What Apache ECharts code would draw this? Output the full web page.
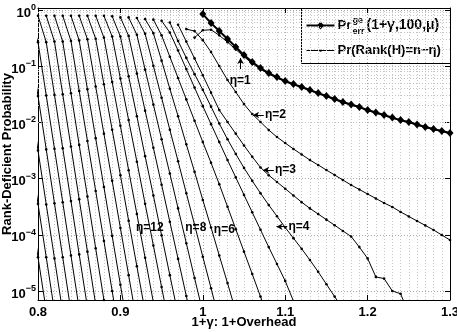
<!DOCTYPE html>
<html><head><meta charset="utf-8">
<script src="https://cdn.jsdelivr.net/npm/echarts@6/dist/echarts.min.js"></script>
<style>html,body{margin:0;padding:0;background:#fff}#c{width:457px;height:332px}</style>
</head><body><div id="c"></div>
<script>
const FONT = 'Liberation Sans, Arial, sans-serif';
const STEP = 0.01;
const xTicks = [0.8, 0.9, 1.0, 1.1, 1.2, 1.3];
const yMin = 6.9e-6, yMax = 1.09;

// Pr_err^ge(1+gamma,100,mu), x = 1.00 ... 1.30
const prErrStart = 1.00;
const prErr = [0.849,0.587,0.423,0.305,0.220,0.158,0.119,0.0929,0.0757,0.0643,0.0546,0.0482,0.0427,0.0378,0.0333,0.0295,0.0261,0.0231,0.0208,0.0188,0.0166,0.0150,0.0136,0.0122,0.0110,0.0102,0.00918,0.00828,0.00764,0.00703,0.00647];

// Pr(Rank(H)=n-eta): first x of each curve (index = eta)
const etaStart = [null,0.99,0.98,0.97,0.96,0.95,0.94,0.93,0.92,0.91,0.90,0.89,0.88,0.87,0.86,0.85,0.84,0.83,0.82,0.81,0.80,0.79,0.78,0.77,0.76,0.75];
const eta1 = [0.324,0.437,0.447,0.355,0.269,0.200,0.148,0.112,0.0891,0.0724,0.0617,0.0531,0.0471,0.0417,0.0369,0.0326,0.0288,0.0255,0.0225,0.0204,0.0184,0.0163,0.0147,0.0132,0.0119,0.0108,0.00993,0.00897,0.00809,0.00746,0.00687,0.00632];
const eta2 = [0.459,0.423,0.292,0.179,0.101,0.0568,0.0348,0.0212,0.0141,0.0102,0.00733,0.00550,0.00430,0.00337,0.00269,0.00214,0.00175,0.00142,0.00116,9.44e-4,7.69e-4,6.40e-4,5.32e-4,4.43e-4,3.68e-4,3.13e-4,2.55e-4,2.12e-4,1.76e-4,1.47e-4,1.22e-4,9.91e-5,8.07e-5];
const eta3 = [0.550,0.275,0.138,0.0692,0.0339,0.0166,0.0102,0.00631,0.00389,0.00245,0.00158,0.00115,8.71e-4,6.61e-4,5.01e-4,3.80e-4,2.95e-4,2.34e-4,1.86e-4,1.48e-4,1.17e-4,9.33e-5,6.03e-5,3.80e-5,1.78e-5,1.66e-5,1.00e-5,8.91e-6,3.98e-6];
const eta4 = [0.603,0.282,0.141,0.0724,0.0380,0.0191,0.00955,0.00501,0.00275,0.00155,9.12e-4,5.50e-4,3.39e-4,2.14e-4,1.35e-4,8.71e-5,5.62e-5,3.55e-5,2.19e-5,1.32e-5,7.94e-6,4.79e-6];
const eta5 = [0.646,0.398,0.191,0.0891,0.0417,0.0195,0.00933,0.00447,0.00214,0.00105,5.13e-4,2.51e-4,1.23e-4,6.03e-5,3.02e-5,1.51e-5,6.61e-6,3.16e-6];
const eta6 = [0.676,0.355,0.148,0.0617,0.0257,0.0107,0.00447,0.00191,7.94e-4,3.16e-4,1.26e-4,5.01e-5,2.00e-5,7.94e-6,3.16e-6];
const eta7 = [0.692,0.389,0.126,0.0398,0.0129,0.00407,0.00132,4.17e-4,1.35e-4,4.27e-5,1.38e-5,4.37e-6];
const eta8 = [0.724,0.380,0.102,0.0275,0.00741,0.00204,5.50e-4,1.51e-4,4.07e-5,1.12e-5,3.02e-6];
const eta9 = [0.741,0.363,0.0871,0.0209,0.00501,0.00123,2.95e-4,7.08e-5,1.70e-5,4.17e-6];
const eta10 = [0.741,0.347,0.0741,0.0162,0.00355,7.76e-4,1.70e-4,3.72e-5,8.13e-6,1.78e-6];
const eta11 = [0.776,0.339,0.0661,0.0129,0.00251,5.01e-4,9.77e-5,1.91e-5,3.80e-6];
const eta12 = [0.794,0.339,0.0603,0.0110,0.00200,3.55e-4,6.46e-5,1.17e-5,2.09e-6];
const eta13 = [0.794,0.324,0.0525,0.00871,0.00141,2.34e-4,3.89e-5,6.31e-6,1.05e-6];
const eta14 = [0.794,0.309,0.0479,0.00741,0.00115,1.78e-4,2.75e-5,4.27e-6];
const eta15 = [0.794,0.302,0.0437,0.00631,9.12e-4,1.32e-4,1.91e-5,2.75e-6];
const eta16 = [0.794,0.288,0.0389,0.00525,7.08e-4,9.55e-5,1.29e-5,1.74e-6];
const eta17 = [0.794,0.282,0.0363,0.00468,6.03e-4,7.76e-5,1.00e-5,1.29e-6];
const eta18 = [0.794,0.275,0.0331,0.00398,4.79e-4,5.75e-5,6.92e-6,8.32e-7];
const eta19 = [0.794,0.275,0.0316,0.00372,4.27e-4,5.01e-5,5.75e-6];
const eta20 = [0.794,0.269,0.0309,0.00347,3.98e-4,4.47e-5,5.13e-6];
const eta21 = [0.794,0.269,0.0302,0.00339,3.80e-4,4.27e-5,4.79e-6];
const eta22 = [0.794,0.269,0.0295,0.00331,3.63e-4,3.98e-5,4.37e-6];
const eta23 = [0.794,0.263,0.0288,0.00316,3.47e-4,3.80e-5,4.17e-6];
const eta24 = [0.794,0.263,0.0288,0.00324,3.55e-4,3.98e-5,4.37e-6];
const eta25 = [0.794,0.251,0.0282,0.00316,3.55e-4,3.98e-5,4.47e-6];
const etaCurves = [null,eta1,eta2,eta3,eta4,eta5,eta6,eta7,eta8,eta9,eta10,eta11,eta12,eta13,eta14,eta15,eta16,eta17,eta18,eta19,eta20,eta21,eta22,eta23,eta24,eta25];

// text annotations: [label, x, y, placement]
const annotations = [
  ['η=1', 1.0455, 0.0546, 'inside'],
  ['η=2', 1.0748, 0.01355, 'right'],
  ['η=3', 1.0870, 1.42e-3, 'right'],
  ['η=4', 1.1033, 1.39e-4, 'right'],
  ['η=12', 0.9357, 1.32e-4, 'inside'],
  ['η=8', 0.9915, 1.32e-4, 'inside'],
  ['η=6', 1.0261, 1.22e-4, 'inside']
];
// arrows: [x from, y from, x to (tip), y to (tip)]
const arrows = [
  [1.0458, 0.0891, 1.0458, 0.140],
  [1.0740, 0.01355, 1.0610, 0.01355],
  [1.0862, 1.42e-3, 1.0732, 1.42e-3],
  [1.1025, 1.39e-4, 1.0894, 1.39e-4]
];

function pairs(start, vals) {
  return vals.map((v, k) => [Math.round((start + k * STEP) * 100) / 100, v]);
}
const minorY = [];
for (let e = -6; e <= -1; e++) {
  for (let m = 2; m <= 9; m++) {
    const v = Number((m * Math.pow(10, e)).toPrecision(3));
    if (v > yMin && v < yMax) minorY.push({ yAxis: v });
  }
}

const series = [];
for (let eta = 1; eta < etaCurves.length; eta++) {
  series.push({
    name: 'η=' + eta, type: 'line', data: pairs(etaStart[eta], etaCurves[eta]),
    symbol: 'circle', symbolSize: 2.6, showSymbol: true, silent: true, z: 3,
    lineStyle: { color: '#000', width: 1 }, itemStyle: { color: '#000' },
    markLine: eta === 1 ? {
      silent: true, symbol: ['none', 'none'], z: 1, animation: false,
      label: { show: false },
      lineStyle: { color: '#c4c4c4', width: 1, type: [1, 2] },
      data: minorY
    } : undefined
  });
}
series.push({
  name: 'Pr_err', type: 'line', data: pairs(prErrStart, prErr),
  symbol: 'diamond', symbolSize: [7, 8], showSymbol: true, silent: true, z: 4,
  lineStyle: { color: '#000', width: 2 }, itemStyle: { color: '#000' },
  markLine: {
    silent: true, symbol: ['none', 'arrow'], symbolSize: [5, 6], animation: false,
    label: { show: false },
    lineStyle: { color: '#000', width: 1, type: 'solid' },
    emphasis: { disabled: true },
    data: arrows.map(a => [{ coord: [a[0], a[1]] }, { coord: [a[2], a[3]] }])
  },
  markPoint: {
    silent: true, symbol: 'rect', symbolSize: 1, itemStyle: { color: 'rgba(0,0,0,0)' },
    data: annotations.map(a => ({
      coord: [a[1], a[2]],
      label: {
        show: true, formatter: a[0], position: a[3], distance: 0,
        color: '#000', fontFamily: FONT, fontWeight: 'bold', fontSize: 12,
        align: a[3] === 'right' ? 'left' : 'center'
      }
    }))
  }
});

const labelFont = { color: '#000', fontFamily: FONT, fontWeight: 'bold', fontSize: 13 };
const chart = echarts.init(document.getElementById('c'), null, { renderer: 'canvas' });
chart.setOption({
  animation: false,
  backgroundColor: '#fff',
  grid: { left: 38, right: 7, top: 8, bottom: 32, containLabel: false, outerBoundsMode: 'none' },
  xAxis: [{
    type: 'value', min: xTicks[0], max: xTicks[xTicks.length - 1], interval: 0.1, position: 'bottom',
    axisLine: { show: true, onZero: false, lineStyle: { color: '#000', width: 1 } },
    axisTick: { show: true, inside: true, length: 5, lineStyle: { color: '#000' } },
    axisLabel: Object.assign({ margin: 6, formatter: v => String(Math.round(v * 10) / 10) }, labelFont),
    splitLine: { show: true, lineStyle: { color: '#a8a8a8', width: 1, type: [1, 2] } },
    minorTick: { show: false, splitNumber: 10 },
    minorSplitLine: { show: true, lineStyle: { color: '#c4c4c4', width: 1, type: [1, 2] } },
    name: '1+γ: 1+Overhead', nameLocation: 'middle', nameGap: 16, nameMoveOverlap: false,
    nameTextStyle: Object.assign({ verticalAlign: 'top' }, labelFont)
  }, {
    type: 'value', min: xTicks[0], max: xTicks[xTicks.length - 1], interval: 0.1, position: 'top',
    axisLine: { show: true, onZero: false, lineStyle: { color: '#000', width: 1 } },
    axisTick: { show: true, inside: true, length: 5, lineStyle: { color: '#000' } },
    axisLabel: { show: false }, splitLine: { show: false }
  }],
  yAxis: [{
    type: 'log', logBase: 10, min: yMin, max: yMax, position: 'left',
    axisLine: { show: true, onZero: false, lineStyle: { color: '#000', width: 1 } },
    axisTick: { show: true, inside: true, length: 5, lineStyle: { color: '#000' } },
    axisLabel: {
      margin: 2, color: '#000',
      formatter: v => {
        const e = Math.log10(v), r = Math.round(e);
        if (Math.abs(e - r) > 1e-4) return '';
        return '{b|10}{s|' + (r < 0 ? '−' + (-r) : String(r)) + '}';
      },
      rich: {
        b: { fontFamily: FONT, fontWeight: 'bold', fontSize: 13, color: '#000', padding: [6, 0, 0, 0] },
        s: { fontFamily: FONT, fontWeight: 'bold', fontSize: 9, color: '#000', padding: [0, 0, 5, 0] }
      }
    },
    splitLine: { show: true, lineStyle: { color: '#a8a8a8', width: 1, type: [1, 2] } },
    name: 'Rank-Deficient Probability', nameLocation: 'middle', nameGap: 24, nameMoveOverlap: false,
    nameTextStyle: labelFont
  }, {
    type: 'log', logBase: 10, min: yMin, max: yMax, position: 'right',
    axisLine: { show: true, onZero: false, lineStyle: { color: '#000', width: 1 } },
    axisTick: { show: true, inside: true, length: 5, lineStyle: { color: '#000' } },
    axisLabel: { show: false }, splitLine: { show: false }
  }],
  series: series,
  graphic: [{
    type: 'group', left: 301, top: 8, silent: true, z: 100,
    children: [
      { type: 'rect', shape: { x: 0, y: 0, width: 149, height: 55 }, style: { fill: '#fff', stroke: '#000', lineWidth: 1 } },
      { type: 'line', shape: { x1: 5, y1: 17, x2: 33, y2: 17 }, style: { stroke: '#000', lineWidth: 2 } },
      { type: 'polygon', shape: { points: [[19, 13], [22.5, 17], [19, 21], [15.5, 17]] }, style: { fill: '#000' } },
      { type: 'line', shape: { x1: 5, y1: 42, x2: 33, y2: 42 }, style: { stroke: '#000', lineWidth: 1 } },
      { type: 'circle', shape: { cx: 19, cy: 42, r: 1.3 }, style: { fill: '#000' } },
      { type: 'text', x: 36, y: 17, style: { text: 'Pr', fill: '#000', font: 'bold 13px ' + FONT, verticalAlign: 'middle' } },
      { type: 'text', x: 51, y: 12, style: { text: 'ge', fill: '#000', font: 'bold 9px ' + FONT, verticalAlign: 'middle' } },
      { type: 'text', x: 51, y: 23, style: { text: 'err', fill: '#000', font: 'bold 9px ' + FONT, verticalAlign: 'middle' } },
      { type: 'text', x: 65, y: 17, style: { text: '(1+γ,100,μ)', fill: '#000', font: 'bold 14px ' + FONT, verticalAlign: 'middle' } },
      { type: 'text', x: 36, y: 42, style: { text: 'Pr(Rank(H)=n−η)', fill: '#000', font: 'bold 13px ' + FONT, verticalAlign: 'middle' } }
    ]
  }]
});
</script></body></html>
